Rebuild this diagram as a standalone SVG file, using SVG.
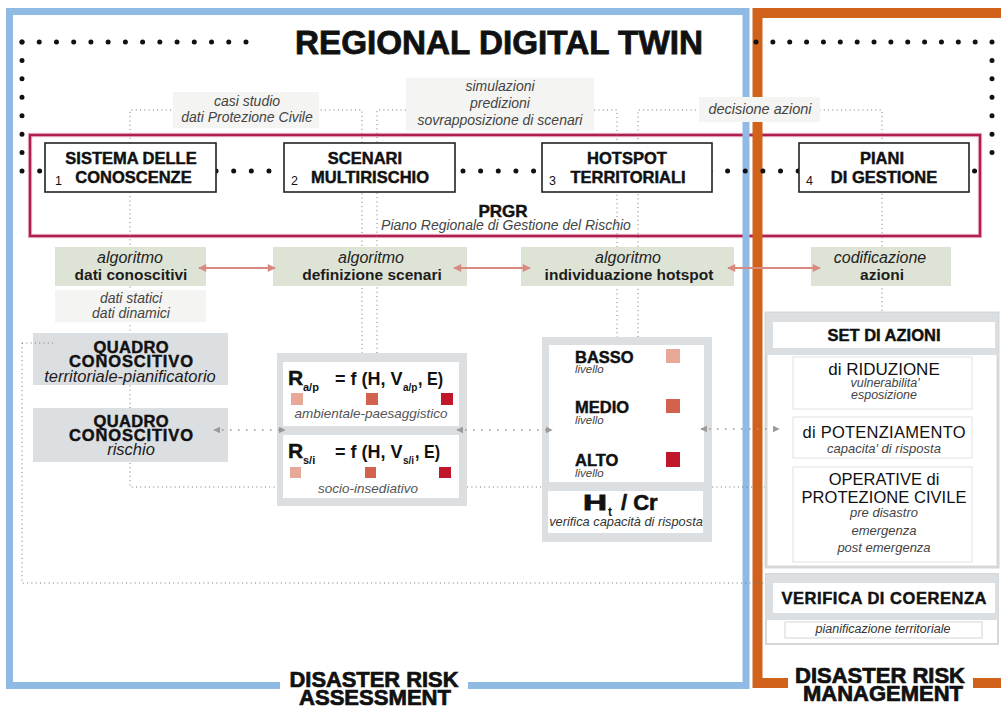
<svg xmlns="http://www.w3.org/2000/svg" width="1001" height="709" viewBox="0 0 1001 709">
<style>
.sans{font-family:"Liberation Sans",Arial,sans-serif}
.hb{font-family:"Liberation Sans",Arial,sans-serif;font-weight:bold;fill:#111}
.hv{stroke:#111;stroke-width:0.45}
.it{font-family:"Liberation Sans",Arial,sans-serif;font-style:italic;fill:#444}
.num{font-family:"Liberation Sans",Arial,sans-serif;font-size:12.5px;fill:#111}
.box{fill:#fff;stroke:#222;stroke-width:1.6}
.lbl{fill:#F4F4F2}
.alg{fill:#DEE4D5}
.gr{fill:#DCDFE2}
.wp{fill:#fff}
.sub{fill:#fff;stroke:#E2E2E2;stroke-width:1}
.fine{fill:none;stroke:#777;stroke-width:1;stroke-dasharray:1 3.3}
.med{fill:none;stroke:#9A9A9A;stroke-width:1.6;stroke-dasharray:1.6 6.4}
.big{fill:none;stroke:#111;stroke-width:5;stroke-linecap:round}
.pink{fill:none;stroke:#D98A80;stroke-width:2}
.c{text-anchor:middle}
</style>
<defs>
<marker id="pa" viewBox="0 0 10 10" refX="9" refY="5" markerWidth="9" markerHeight="8" markerUnits="userSpaceOnUse" orient="auto-start-reverse"><path d="M0,0 L10,5 L0,10 z" fill="#D98A80"/></marker>
<marker id="ga" viewBox="0 0 10 10" refX="9" refY="5" markerWidth="7" markerHeight="7" markerUnits="userSpaceOnUse" orient="auto-start-reverse"><path d="M0,0 L10,5 L0,10 z" fill="#9A9A9A"/></marker>
</defs>

<!-- PRGR frame -->
<g id="prgr">
<rect x="30" y="135" width="950" height="101" fill="none" stroke="#F3C9D6" stroke-width="4.5"/>
<rect x="30" y="135" width="950" height="101" fill="none" stroke="#AE1E50" stroke-width="2.5"/>
<text x="503" y="217" class="hb hv c" font-size="17">PRGR</text>
<text x="506" y="230" class="it c" font-size="14">Piano Regionale di Gestione del Rischio</text>
</g>

<!-- frames -->
<g id="frames">
<rect x="9.5" y="11.5" width="736.5" height="674" fill="none" stroke="#8FBAE3" stroke-width="7"/>
<path d="M1001,13 H757.5 V683 H1001" fill="none" stroke="#D0621B" stroke-width="10"/>
<rect x="280" y="655" width="188" height="54" fill="#fff"/>
<rect x="788" y="655" width="185" height="54" fill="#fff"/>
<text x="374" y="687" class="hb c" font-size="21.5" textLength="169" lengthAdjust="spacingAndGlyphs" stroke="#111" stroke-width="0.7">DISASTER RISK</text>
<text x="375" y="705" class="hb c" font-size="21.5" textLength="152" lengthAdjust="spacingAndGlyphs" stroke="#111" stroke-width="0.7">ASSESSMENT</text>
<text x="880" y="683" class="hb c" font-size="21.5" textLength="170" lengthAdjust="spacingAndGlyphs" stroke="#111" stroke-width="0.7">DISASTER RISK</text>
<text x="883" y="701" class="hb c" font-size="21.5" textLength="160" lengthAdjust="spacingAndGlyphs" stroke="#111" stroke-width="0.7">MANAGEMENT</text>
</g>

<!-- connectors -->
<g id="connectors">
<path class="fine" d="M130,143 V110 H362 V353"/>
<path class="fine" d="M377,353 V110 H617 V337"/>
<path class="fine" d="M638,337 V110 H882 V313"/>
<path class="fine" d="M130,192 V487 H766"/>
<path class="fine" d="M22,343 V583 H772" marker-end="url(#ga)"/>
<path class="big" d="M22,42 H246" stroke-dasharray="0 17.23"/>
<path class="big" d="M22,42 V171" stroke-dasharray="0 18.43"/>
<path class="big" d="M22,171 H992" stroke-dasharray="0 17.64"/>
<path class="big" d="M992,42 V171" stroke-dasharray="0 18.43"/>
<path class="big" d="M756,42 H992" stroke-dasharray="0 16.86"/>
<g id="lbl-casi">
<rect class="lbl" x="173" y="92" width="146" height="36"/>
<text x="247" y="106" class="it c" font-size="14">casi studio</text>
<text x="247" y="122" class="it c" font-size="14">dati Protezione Civile</text>
</g>
<g id="lbl-sim">
<rect class="lbl" x="406" y="78" width="188" height="53"/>
<text x="500" y="91" class="it c" font-size="14">simulazioni</text>
<text x="500" y="108" class="it c" font-size="14">predizioni</text>
<text x="500" y="125" class="it c" font-size="14">sovrapposizione di scenari</text>
</g>
<g id="lbl-dec">
<rect class="lbl" x="699" y="97" width="121" height="25"/>
<text x="760" y="114" class="it c" font-size="14.5">decisione azioni</text>
</g>
</g>

<!-- title -->
<text x="499" y="54" class="hb c" font-size="33" textLength="408" lengthAdjust="spacingAndGlyphs" stroke="#111" stroke-width="0.8">REGIONAL DIGITAL TWIN</text>

<!-- top boxes -->
<g id="n1">
<rect class="box" x="45" y="143" width="171" height="49"/>
<text x="131" y="164" class="hb hv c" font-size="16.5">SISTEMA DELLE</text>
<text x="133.5" y="183" class="hb hv c" font-size="16.5">CONOSCENZE</text>
<text x="55" y="185" class="num">1</text>
</g>
<g id="n2">
<rect class="box" x="284" y="143" width="171" height="49"/>
<text x="365" y="164" class="hb hv c" font-size="16.5">SCENARI</text>
<text x="370" y="183" class="hb hv c" font-size="16.5">MULTIRISCHIO</text>
<text x="291" y="185" class="num">2</text>
</g>
<g id="n3">
<rect class="box" x="542" y="143" width="170" height="49"/>
<text x="627" y="164" class="hb hv c" font-size="16.5">HOTSPOT</text>
<text x="628" y="183" class="hb hv c" font-size="16.5">TERRITORIALI</text>
<text x="549" y="185" class="num">3</text>
</g>
<g id="n4">
<rect class="box" x="799" y="143" width="170" height="49"/>
<text x="882" y="164" class="hb hv c" font-size="16.5">PIANI</text>
<text x="884" y="183" class="hb hv c" font-size="16.5">DI GESTIONE</text>
<text x="806" y="185" class="num">4</text>
</g>

<!-- algorithm boxes -->
<g id="a1">
<rect class="alg" x="55" y="247" width="151" height="39"/>
<text x="130" y="263" class="it c" font-size="16" style="fill:#222">algoritmo</text>
<text x="131" y="280" class="hb c" font-size="15.5" style="fill:#1c1c1c">dati conoscitivi</text>
</g>
<g id="a1b">
<rect class="lbl" x="55" y="290" width="151" height="32"/>
<text x="131" y="303" class="it c" font-size="14">dati statici</text>
<text x="131" y="318" class="it c" font-size="14">dati dinamici</text>
</g>
<g id="a2">
<rect class="alg" x="273" y="247" width="194" height="39"/>
<text x="371" y="263" class="it c" font-size="16" style="fill:#222">algoritmo</text>
<text x="372" y="280" class="hb c" font-size="15.5" style="fill:#1c1c1c">definizione scenari</text>
</g>
<g id="a3">
<rect class="alg" x="521" y="247" width="213" height="39"/>
<text x="628" y="263" class="it c" font-size="16" style="fill:#222">algoritmo</text>
<text x="629" y="280" class="hb c" font-size="15.5" style="fill:#1c1c1c">individuazione hotspot</text>
</g>
<g id="a4">
<rect class="alg" x="811" y="247" width="140" height="39"/>
<text x="880" y="263" class="it c" font-size="16" style="fill:#222">codificazione</text>
<text x="882" y="280" class="hb c" font-size="15.5" style="fill:#1c1c1c">azioni</text>
</g>

<!-- quadro conoscitivo -->
<g id="q1">
<rect class="gr" x="33" y="333" width="195" height="52"/>
<text x="131" y="353" class="hb hv c" font-size="16.5" textLength="75">QUADRO</text>
<text x="131" y="367" class="hb hv c" font-size="16.5" textLength="124">CONOSCITIVO</text>
<text x="130" y="382" class="it c" font-size="16.5" style="fill:#1c1c1c">territoriale-pianificatorio</text>
</g>
<g id="q2">
<rect class="gr" x="33" y="408" width="195" height="54"/>
<text x="131" y="427" class="hb hv c" font-size="16.5" textLength="75">QUADRO</text>
<text x="131" y="441" class="hb hv c" font-size="16.5" textLength="124">CONOSCITIVO</text>
<text x="131" y="455" class="it c" font-size="16.5" style="fill:#1c1c1c">rischio</text>
</g>

<!-- formula box -->
<g id="formula">
<rect class="gr" x="277" y="353" width="190" height="153"/>
<rect class="wp" x="283" y="362" width="176" height="64"/>
<rect class="wp" x="283" y="435" width="176" height="63"/>
<text x="288" y="385" class="hb hv" font-size="21">R</text>
<text x="303" y="391" class="hb" font-size="11">a/p</text>
<text x="335" y="385" class="hb" font-size="18">= f (H, V</text>
<text x="403" y="391" class="hb" font-size="10">a/p</text>
<text x="418" y="385" class="hb" font-size="18" textLength="25" lengthAdjust="spacingAndGlyphs">, E)</text>
<rect x="291" y="393" width="12" height="12" fill="#E8A898"/>
<rect x="366" y="393" width="12" height="12" fill="#D4604E"/>
<rect x="441" y="393" width="12" height="12" fill="#C0182A"/>
<text x="371" y="418" class="it c" font-size="13.5" style="fill:#555">ambientale-paesaggistico</text>
<text x="288" y="458" class="hb hv" font-size="21">R</text>
<text x="303" y="464" class="hb" font-size="11">s/i</text>
<text x="335" y="458" class="hb" font-size="18">= f (H, V</text>
<text x="403" y="464" class="hb" font-size="10">s/i</text>
<text x="415" y="458" class="hb" font-size="18" textLength="25" lengthAdjust="spacingAndGlyphs">, E)</text>
<rect x="290" y="467" width="11" height="11" fill="#E8A898"/>
<rect x="365" y="467" width="11" height="11" fill="#D4604E"/>
<rect x="439" y="467" width="12" height="11" fill="#C0182A"/>
<text x="368" y="493" class="it c" font-size="13.5" style="fill:#555">socio-insediativo</text>
</g>

<!-- hotspot box -->
<g id="hotspot">
<rect class="gr" x="542" y="337" width="170" height="205"/>
<rect class="wp" x="549" y="345" width="155" height="137"/>
<rect class="wp" x="548" y="491" width="155" height="42"/>
<text x="575" y="363" class="hb hv" font-size="16.5">BASSO</text>
<text x="575" y="373" class="it" font-size="11.5">livello</text>
<rect x="666" y="349" width="14" height="14" fill="#E8A898"/>
<text x="575" y="413" class="hb hv" font-size="16.5">MEDIO</text>
<text x="575" y="424" class="it" font-size="11.5">livello</text>
<rect x="666" y="399" width="14" height="14" fill="#D4604E"/>
<text x="575" y="466" class="hb hv" font-size="16.5">ALTO</text>
<text x="575" y="477" class="it" font-size="11.5">livello</text>
<rect x="666" y="452" width="14" height="15" fill="#C0182A"/>
<text x="583" y="510" class="hb" font-size="22" stroke="#111" stroke-width="0.8" textLength="24" lengthAdjust="spacingAndGlyphs">H</text>
<text x="608" y="516" class="hb" font-size="12">t</text>
<text x="621" y="510" class="hb" font-size="22" stroke="#111" stroke-width="0.6">/ Cr</text>
<text x="626" y="526" class="it c" font-size="12.8" style="fill:#333">verifica capacità di risposta</text>
</g>

<!-- set di azioni -->
<g id="azioni">
<rect x="766" y="313" width="232" height="254" fill="#fff" stroke="#D5D8DB" stroke-width="3"/>
<rect class="gr" x="766" y="313" width="232" height="42"/>
<rect class="wp" x="773" y="322" width="222" height="26"/>
<text x="884" y="341" class="hb hv c" font-size="16.5">SET DI AZIONI</text>
<rect class="sub" x="793" y="357" width="179" height="52"/>
<text x="884" y="375" class="sans c" font-size="17" fill="#111">di RIDUZIONE</text>
<text x="885" y="387" class="it c" font-size="12.5">vulnerabilita'</text>
<text x="884" y="399" class="it c" font-size="12.5">esposizione</text>
<rect class="sub" x="793" y="417" width="179" height="41"/>
<text x="884" y="438" class="sans c" font-size="16.5" fill="#111" textLength="163">di POTENZIAMENTO</text>
<text x="884" y="453" class="it c" font-size="13">capacita' di risposta</text>
<rect class="sub" x="793" y="467" width="179" height="95"/>
<text x="884" y="485" class="sans c" font-size="16.5" fill="#111">OPERATIVE di</text>
<text x="884" y="503" class="sans c" font-size="16.5" fill="#111" textLength="165">PROTEZIONE CIVILE</text>
<text x="884" y="517" class="it c" font-size="13">pre disastro</text>
<text x="884" y="535" class="it c" font-size="13">emergenza</text>
<text x="884" y="552" class="it c" font-size="13">post emergenza</text>
</g>

<!-- verifica -->
<g id="verifica">
<rect x="766" y="574" width="232" height="70" fill="#fff" stroke="#D5D8DB" stroke-width="2"/>
<rect class="gr" x="766" y="574" width="232" height="46"/>
<rect class="wp" x="773" y="583" width="222" height="30"/>
<text x="884" y="604" class="hb hv c" font-size="16.5" textLength="205">VERIFICA DI COERENZA</text>
<rect x="785" y="622" width="197" height="16" fill="#fff" stroke="#D5D5D5" stroke-width="1"/>
<text x="883" y="633" class="it c" font-size="12.5" style="fill:#333">pianificazione territoriale</text>
</g>

<!-- arrows on top -->
<g id="arrows">
<path class="pink" d="M199,268 H275" marker-start="url(#pa)" marker-end="url(#pa)"/>
<path class="pink" d="M454,268 H530" marker-start="url(#pa)" marker-end="url(#pa)"/>
<path class="pink" d="M728,268 H820" marker-start="url(#pa)" marker-end="url(#pa)"/>
<path class="med" d="M214,430 H285" marker-start="url(#ga)" marker-end="url(#ga)"/>
<path class="med" d="M457,430 H552" marker-start="url(#ga)" marker-end="url(#ga)"/>
<path class="med" d="M701,429 H779" marker-start="url(#ga)" marker-end="url(#ga)"/>
<path class="fine" d="M22,343 H56"/>
</g>
</svg>
